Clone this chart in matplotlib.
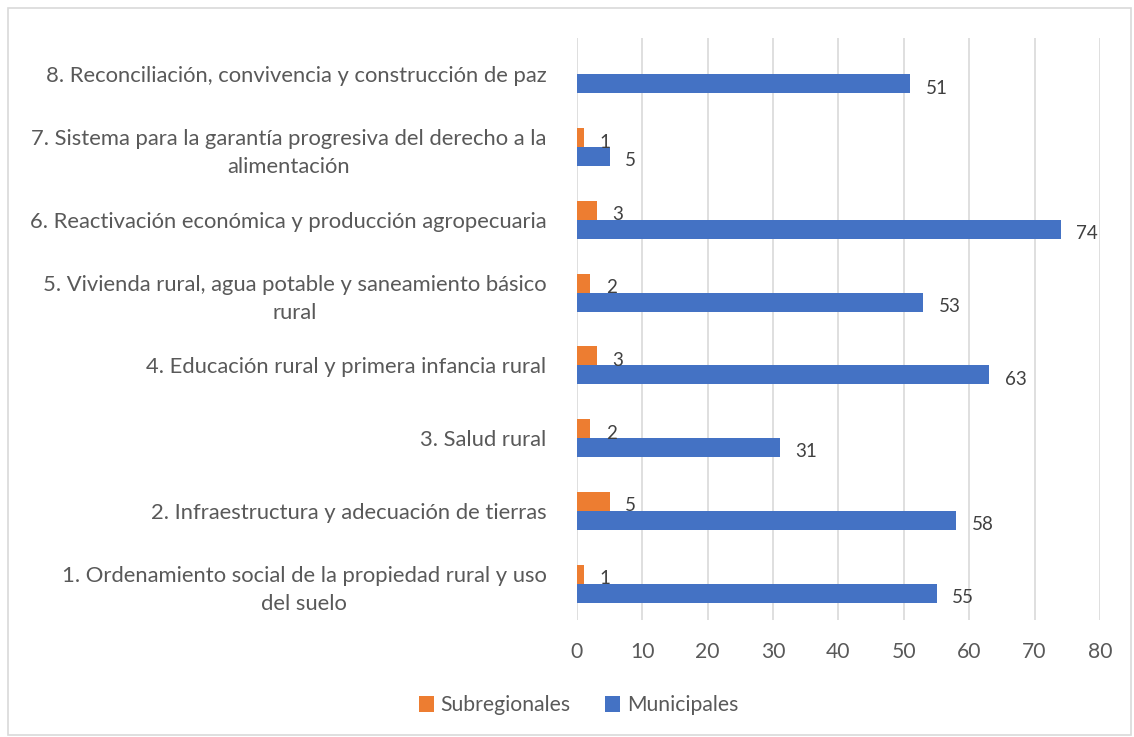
import matplotlib.pyplot as plt
import numpy as np
from matplotlib.patches import Rectangle

plt.rcParams['font.family'] = ['Lato', 'DejaVu Sans']

categories = [
    "1. Ordenamiento social de la propiedad rural y uso\ndel suelo",
    "2. Infraestructura y adecuación de tierras",
    "3. Salud rural",
    "4. Educación rural y primera infancia rural",
    "5. Vivienda rural, agua potable y saneamiento básico\nrural",
    "6. Reactivación económica y producción agropecuaria",
    "7. Sistema para la garantía progresiva del derecho a la\nalimentación",
    "8. Reconciliación, convivencia y construcción de paz",
]
subregionales = [1, 5, 2, 3, 2, 3, 1, None]
municipales = [55, 58, 31, 63, 53, 74, 5, 51]

orange = "#ED7D31"
blue = "#4472C4"
text_col = "#595959"

fig = plt.figure(figsize=(11.34, 7.37), dpi=100)
ax = fig.add_axes([0.5088, 0.1587, 0.4612, 0.7897])

y = np.arange(len(categories))
h = 0.26

sub_vals = [v if v is not None else 0 for v in subregionales]
ax.barh(y + h / 2, sub_vals, height=h, color=orange, label="Subregionales", zorder=3)
ax.barh(y - h / 2, municipales, height=h, color=blue, label="Municipales", zorder=3)

for yi, v in zip(y, subregionales):
    if v is not None:
        ax.text(v + 2.4, yi + h / 2 - 0.06, str(v), va="center", ha="left",
                fontsize=13.5, color="#404040")
for yi, v in zip(y, municipales):
    ax.text(v + 2.4, yi - h / 2 - 0.06, str(v), va="center", ha="left",
            fontsize=13.5, color="#404040")

ax.set_xlim(0, 80)
ax.set_ylim(-0.5, len(categories) - 0.5)
ax.set_xticks(range(0, 81, 10))
ax.set_yticks(y)
ax.set_yticklabels(categories, multialignment="center", linespacing=1.5)
ax.tick_params(axis="y", length=0, labelsize=15.8, colors=text_col, pad=22)
ax.tick_params(axis="x", length=0, labelsize=15.2, colors=text_col, pad=16)
ax.grid(axis="x", color="#D9D9D9", linewidth=1.2, zorder=0)
for s in ax.spines.values():
    s.set_visible(False)

handles, labels = ax.get_legend_handles_labels()
leg = fig.legend(handles, labels, loc="center", bbox_to_anchor=(0.51, 0.043), ncol=2,
                 frameon=False, fontsize=15.2, handlelength=0.75, handleheight=0.75,
                 handletextpad=0.3, columnspacing=1.6)
for t in leg.get_texts():
    t.set_color(text_col)

fig.patches.append(Rectangle((8 / 1134, 2 / 737), 1123 / 1134, 727 / 737,
                             transform=fig.transFigure, fill=False,
                             edgecolor="#D9D9D9", linewidth=1.2))

fig.savefig("out.png", dpi=100, facecolor="white")
